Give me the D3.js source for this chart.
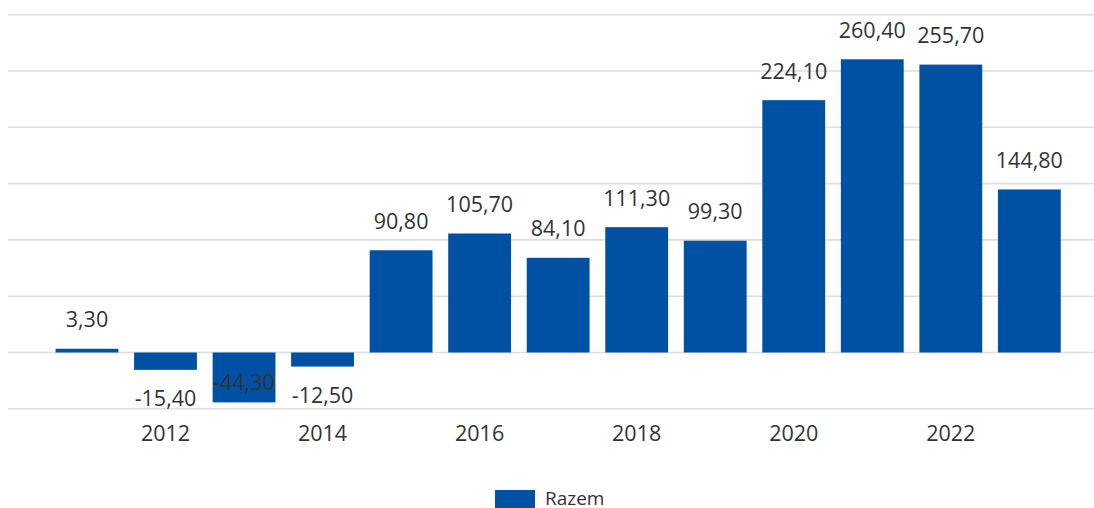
<!DOCTYPE html>
<html>
<head>
<meta charset="utf-8">
<script src="https://cdn.jsdelivr.net/npm/d3@7"></script>
<style>
  html, body { margin: 0; padding: 0; background: #fff; }
  svg { display: block; }
  text { font-family: "Open Sans", "Noto Sans", sans-serif; fill: #333; }
</style>
</head>
<body>
<svg id="chart" width="1094" height="508"></svg>
<script>
// Yearly totals ("Razem")
const years = [2011, 2012, 2013, 2014, 2015, 2016, 2017, 2018, 2019, 2020, 2021, 2022, 2023];
const values = [3.30, -15.40, -44.30, -12.50, 90.80, 105.70, 84.10, 111.30, 99.30, 224.10, 260.40, 255.70, 144.80];
const yTicks = [-50, 0, 50, 100, 150, 200, 250, 300];
const xTickYears = [2012, 2014, 2016, 2018, 2020, 2022];
const seriesName = "Razem";

const W = 1094, H = 508;
const barColor = "#0051a3";
const gridColor = "#dedede";
const fmt = v => v.toFixed(2).replace(".", ",");

const svg = d3.select("#chart");

const x = d3.scaleBand()
  .domain(years)
  .range([47.7, 1068.6])
  .paddingInner(0.2)
  .paddingOuter(0.1);

const y = d3.scaleLinear()
  .domain([-50, 300])
  .range([408.8, 14.7]);

// horizontal gridlines
svg.append("g")
  .selectAll("line")
  .data(yTicks)
  .join("line")
  .attr("x1", 8)
  .attr("x2", W)
  .attr("y1", d => y(d))
  .attr("y2", d => y(d))
  .attr("stroke", gridColor)
  .attr("stroke-width", 1.6);

// bars
svg.append("g")
  .selectAll("rect")
  .data(years)
  .join("rect")
  .attr("x", (d) => x(d))
  .attr("width", x.bandwidth())
  .attr("y", (d, i) => y(Math.max(0, values[i])))
  .attr("height", (d, i) => Math.abs(y(values[i]) - y(0)))
  .attr("fill", barColor);

// value labels: above positive bars, below negative ones;
// a label that would run past the plot bottom moves inside its bar end
const plotBottom = y(-50) + 6;
svg.append("g")
  .selectAll("text")
  .data(years)
  .join("text")
  .attr("x", d => x(d) + x.bandwidth() / 2)
  .attr("y", (d, i) => {
    const v = values[i];
    if (v >= 0) return y(v) - 21.5;
    const below = y(v) + 36.5;
    return below > plotBottom ? y(v) - 12 : below;
  })
  .attr("text-anchor", "middle")
  .attr("font-size", "21.5px")
  .text((d, i) => fmt(values[i]));

// x axis labels (every second year)
svg.append("g")
  .selectAll("text")
  .data(xTickYears)
  .join("text")
  .attr("x", d => x(d) + x.bandwidth() / 2)
  .attr("y", 441)
  .attr("text-anchor", "middle")
  .attr("font-size", "21.5px")
  .text(d => d);

// legend
const legend = svg.append("g");
legend.append("rect")
  .attr("x", 495).attr("y", 490)
  .attr("width", 40).attr("height", 20)
  .attr("fill", barColor);
legend.append("text")
  .attr("x", 545).attr("y", 505)
  .attr("font-size", "19px")
  .text(seriesName);
</script>
</body>
</html>
